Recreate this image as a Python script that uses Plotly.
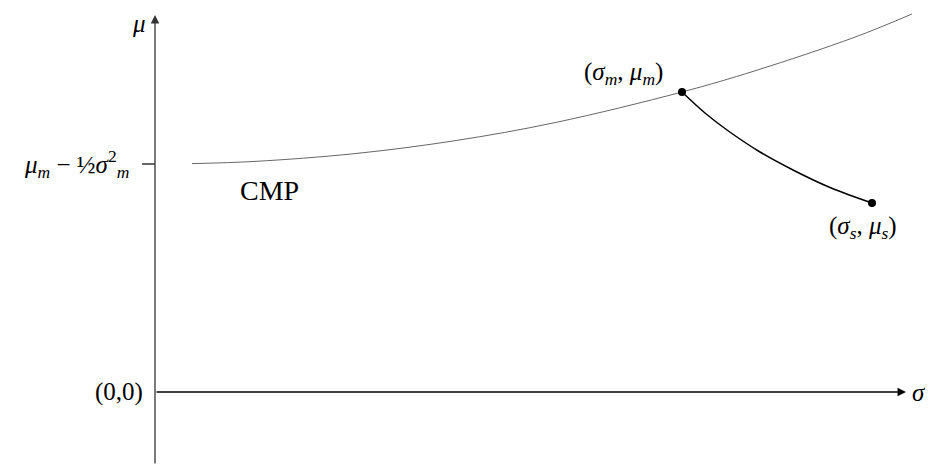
import plotly.graph_objects as go

# curva CMP (sigma, mu)
cmp_sigma = [0.37, 1.0, 2.0, 3.0, 4.0, 5.27, 6.0, 7.0, 7.57]
cmp_mu = [2.284, 2.306, 2.384, 2.513, 2.694, 3.00, 3.212, 3.549, 3.78]

# curva entre (sigma_m, mu_m) e (sigma_s, mu_s)
path_sigma = [5.27, 5.50, 5.72, 6.05, 6.38, 6.75, 7.17]
path_mu = [3.00, 2.79, 2.62, 2.40, 2.22, 2.045, 1.89]

pontos_sigma = [5.27, 7.17]
pontos_mu = [3.00, 1.89]

intercepto = 2.28
eixo_x_max = 7.51
eixo_y_min, eixo_y_max = -0.73, 3.77

serif = "Liberation Serif"

fig = go.Figure()
fig.add_trace(go.Scatter(x=cmp_sigma, y=cmp_mu, mode="lines",
                         line=dict(color="#555555", width=0.9, shape="spline"),
                         hoverinfo="skip"))
fig.add_trace(go.Scatter(x=path_sigma, y=path_mu, mode="lines",
                         line=dict(color="black", width=1.5, shape="spline"),
                         hoverinfo="skip"))
fig.add_trace(go.Scatter(x=pontos_sigma, y=pontos_mu, mode="markers",
                         marker=dict(color="black", size=8), hoverinfo="skip"))

# eixos com setas
fig.add_annotation(x=0, y=eixo_y_max, ax=0, ay=eixo_y_min, xref="x", yref="y",
                   axref="x", ayref="y", showarrow=True, arrowhead=2,
                   arrowsize=1.3, arrowwidth=1.3, arrowcolor="#333333", text="")
fig.add_annotation(x=eixo_x_max, y=0, ax=0, ay=0, xref="x", yref="y",
                   axref="x", ayref="y", showarrow=True, arrowhead=2,
                   arrowsize=1.3, arrowwidth=1.3, arrowcolor="black", text="")
# tick do intercepto
fig.add_shape(type="line", x0=-0.13, x1=0, y0=intercepto, y1=intercepto,
              line=dict(color="black", width=1.2))

txt = dict(showarrow=False, font=dict(family=serif, size=25, color="black"))
fig.add_annotation(x=-0.24, y=intercepto, xanchor="right", yanchor="middle",
                   text="<i>μ<sub>m</sub></i> − ½<i>σ</i><sup>2</sup><sub><i>m</i></sub>", **txt)
fig.add_annotation(x=-0.10, y=0, xanchor="right", yanchor="middle", text="(0,0)", **txt)
fig.add_annotation(x=-0.07, y=3.69, xanchor="right", yanchor="middle", text="<i>μ</i>", **txt)
fig.add_annotation(x=7.55, y=0, xanchor="left", yanchor="middle", text="<i>σ</i>", **txt)
fig.add_annotation(x=1.14, y=2.02, xanchor="center", yanchor="middle", text="CMP",
                   showarrow=False, font=dict(family=serif, size=28, color="black"))
fig.add_annotation(x=4.68, y=3.19, xanchor="center", yanchor="middle",
                   text="(<i>σ<sub>m</sub></i>, <i>μ<sub>m</sub></i>)", **txt)
fig.add_annotation(x=7.08, y=1.65, xanchor="center", yanchor="middle",
                   text="(<i>σ<sub>s</sub></i>, <i>μ<sub>s</sub></i>)", **txt)

# a página desloca a figura 8px; compensa nas dimensões e nos ranges
fig.update_layout(
    width=927, height=457,
    margin=dict(l=0, r=0, t=0, b=0),
    plot_bgcolor="white", paper_bgcolor="white",
    showlegend=False,
    xaxis=dict(range=[-1.47, 7.80], visible=False),
    yaxis=dict(range=[-0.73, 3.84], visible=False),
)

fig.write_html("out.html")
